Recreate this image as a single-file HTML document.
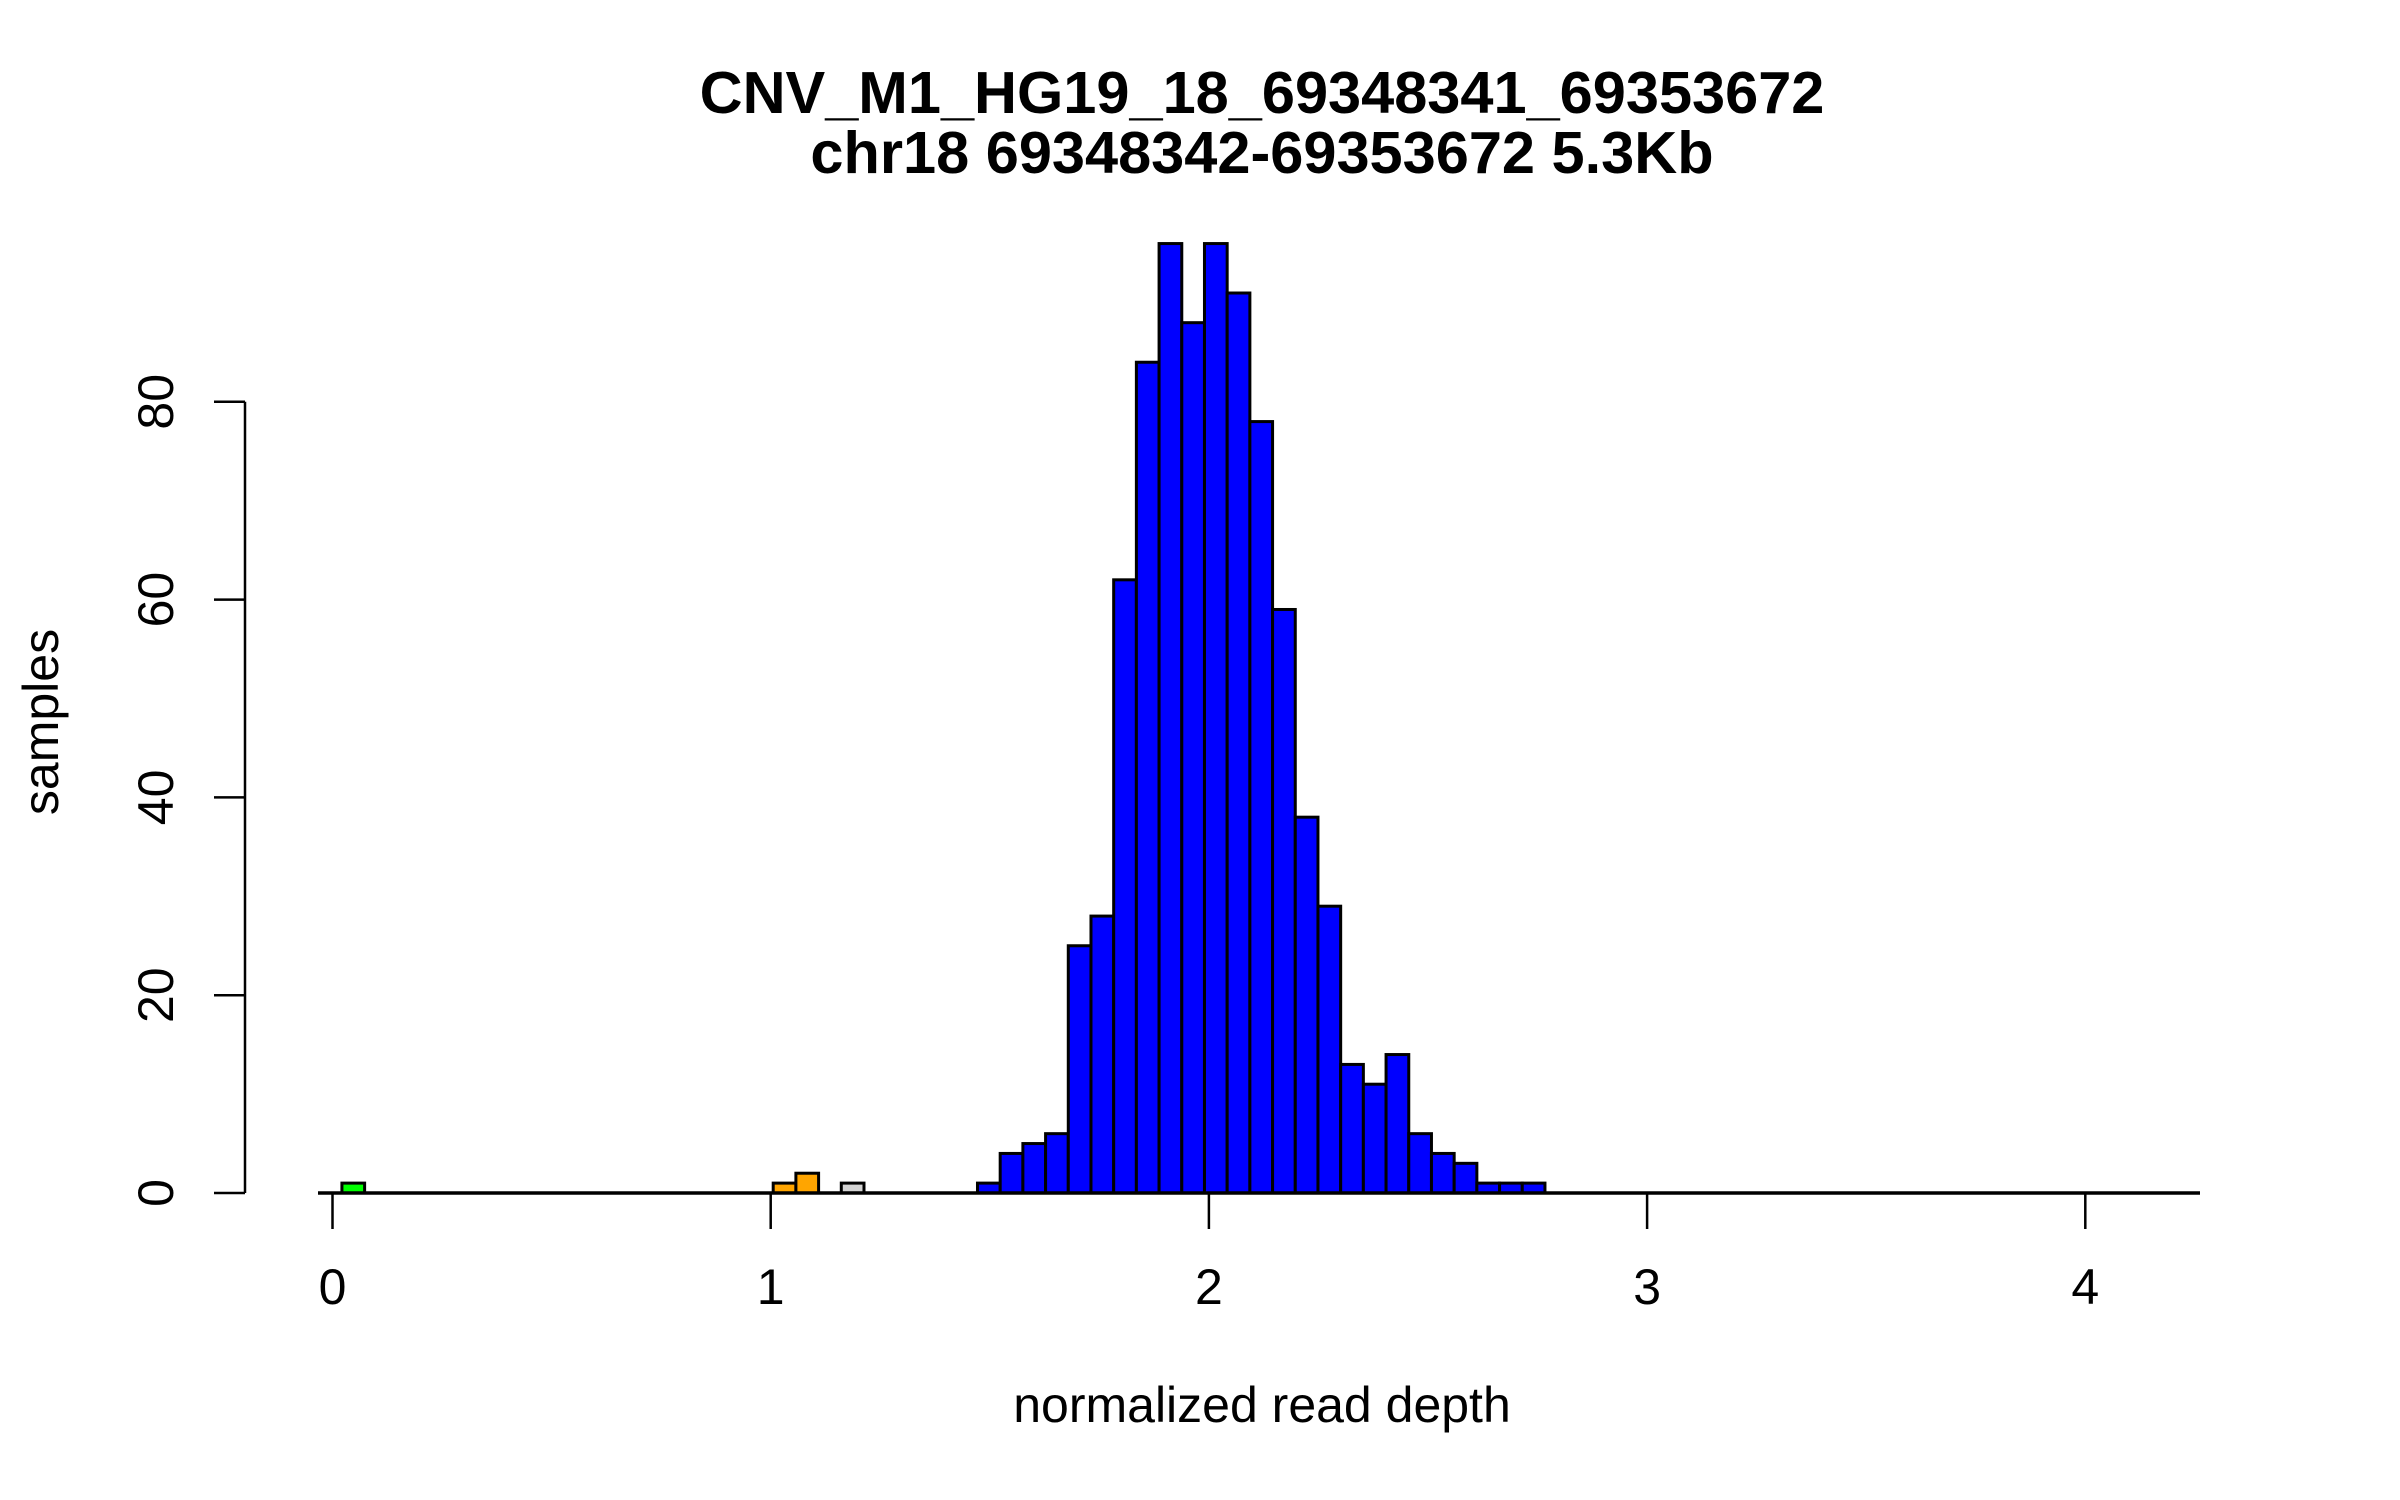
<!DOCTYPE html>
<html><head><meta charset="utf-8"><style>
html,body{margin:0;padding:0;background:#fff;}
svg{display:block;font-family:"Liberation Sans",Arial,sans-serif;}
</style></head><body>
<svg id="chart" width="2400" height="1500" viewBox="0 0 2400 1500">
<text x="1262" y="113" text-anchor="middle" font-size="59.5" font-weight="bold">CNV_M1_HG19_18_69348341_69353672</text>
<text x="1262" y="173" text-anchor="middle" font-size="59.5" font-weight="bold">chr18 69348342-69353672 5.3Kb</text>
<g id="bars"></g>
<g id="axes"></g>
<text x="1262" y="1422" text-anchor="middle" font-size="50">normalized read depth</text>
<text transform="translate(58,722) rotate(-90)" text-anchor="middle" font-size="50">samples</text>
</svg>
<script>
const binStart = 0.0215;
const binWidth = 0.0518;
const binIndex = [0, 19, 20, 22, 28,29,30,31,32,33,34,35,36,37,38,39,40,41,42,43,44,45,46,47,48,49,50,51,52];
const counts = [1, 1, 2, 1, 1,4,5,6,25,28,62,84,96,88,96,91,78,59,38,29,13,11,14,6,4,3,1,1,1];
const binColors = ["#00ff00","#ffa500","#ffa500","#d3d3d3"];
const xTicks = [0,1,2,3,4];
const yTicks = [0,20,40,60,80];

const NS = "http://www.w3.org/2000/svg";
function sx(v){ return 332.5 + v*438.2; }
function sy(v){ return 1193 - v*9.89; }

const bars = document.getElementById('bars');
counts.forEach((c,i)=>{
  const x0 = binStart + binIndex[i]*binWidth;
  const r = document.createElementNS(NS,'rect');
  r.setAttribute('x', sx(x0));
  r.setAttribute('y', sy(c));
  r.setAttribute('width', sx(x0+binWidth)-sx(x0));
  r.setAttribute('height', sy(0)-sy(c));
  r.setAttribute('fill', i < binColors.length ? binColors[i] : '#0000ff');
  r.setAttribute('stroke', '#000');
  r.setAttribute('stroke-width', '3');
  
  
  bars.appendChild(r);
});

const axes = document.getElementById('axes');
function line(x1,y1,x2,y2,w,name){
  const l = document.createElementNS(NS,'line');
  l.setAttribute('x1',x1); l.setAttribute('y1',y1); l.setAttribute('x2',x2); l.setAttribute('y2',y2);
  l.setAttribute('stroke','#000'); l.setAttribute('stroke-width',w);
  
  
  axes.appendChild(l);
}
line(318, sy(0), 2200, sy(0), 3.5, 'baseline');
xTicks.forEach(t=>{
  line(sx(t), sy(0), sx(t), sy(0)+36, 2.5, 'x-tick');
  const tx = document.createElementNS(NS,'text');
  tx.setAttribute('x', sx(t)); tx.setAttribute('y', 1304);
  tx.setAttribute('text-anchor','middle'); tx.setAttribute('font-size','50');
  tx.textContent = t;
  
  
  axes.appendChild(tx);
});
line(245, sy(0), 245, sy(80), 2.5, 'y-axis-line');
yTicks.forEach(t=>{
  line(214, sy(t), 245, sy(t), 2.5, 'y-tick');
  const tx = document.createElementNS(NS,'text');
  tx.setAttribute('transform', 'translate(173,'+sy(t)+') rotate(-90)');
  tx.setAttribute('text-anchor','middle'); tx.setAttribute('font-size','50');
  tx.textContent = t;
  
  
  axes.appendChild(tx);
});
</script>
</body></html>
